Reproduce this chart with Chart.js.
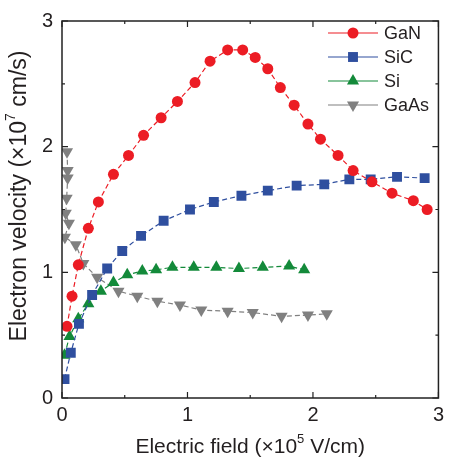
<!DOCTYPE html>
<html>
<head>
<meta charset="utf-8">
<script src="https://cdn.jsdelivr.net/npm/chart.js@4.4.1/dist/chart.umd.min.js"></script>
<style>
  html, body { margin: 0; padding: 0; background: #fff; }
</style>
</head>
<body>
<canvas id="myChart" width="449" height="461"></canvas>
<script>
// values (field in 1e5 V/cm, velocity in 1e7 cm/s)
const ganField = [0.04, 0.08, 0.13, 0.21, 0.29, 0.41, 0.53, 0.65, 0.79, 0.92, 1.06, 1.18, 1.32, 1.44, 1.54, 1.64, 1.74, 1.85, 1.96, 2.06, 2.20, 2.32, 2.47, 2.63, 2.80, 2.91];
const ganVel = [0.57, 0.81, 1.06, 1.35, 1.56, 1.78, 1.93, 2.09, 2.23, 2.36, 2.51, 2.68, 2.77, 2.77, 2.71, 2.62, 2.47, 2.33, 2.18, 2.06, 1.93, 1.81, 1.72, 1.63, 1.57, 1.50];

const sicField = [0.02, 0.07, 0.135, 0.24, 0.36, 0.48, 0.63, 0.81, 1.02, 1.21, 1.43, 1.64, 1.87, 2.09, 2.29, 2.46, 2.67, 2.89];
const sicVel = [0.15, 0.36, 0.59, 0.82, 1.03, 1.17, 1.29, 1.41, 1.50, 1.56, 1.61, 1.65, 1.69, 1.70, 1.74, 1.74, 1.76, 1.75];

const siField = [0.02, 0.06, 0.13, 0.21, 0.31, 0.41, 0.52, 0.64, 0.75, 0.88, 1.05, 1.23, 1.41, 1.60, 1.81, 1.93];
const siVel = [0.34, 0.49, 0.63, 0.75, 0.85, 0.92, 0.98, 1.01, 1.02, 1.04, 1.04, 1.04, 1.03, 1.04, 1.05, 1.02];

const gaasField = [0.04, 0.045, 0.045, 0.037, 0.03, 0.055, 0.023, 0.11, 0.17, 0.28, 0.45, 0.60, 0.76, 0.94, 1.11, 1.32, 1.52, 1.75, 1.96, 2.11];
const gaasVel = [1.96, 1.81, 1.75, 1.59, 1.47, 1.39, 1.28, 1.22, 1.07, 0.96, 0.85, 0.81, 0.77, 0.74, 0.70, 0.69, 0.68, 0.65, 0.66, 0.67];

const xTicks = [0, 1, 2, 3];
const yTicks = [0, 1, 2, 3];
const minorTicks = [0.5, 1.5, 2.5];

// axis titles as [before superscript, superscript, after]
const xTitle = ['Electric field (×10', '5', ' V/cm)'];
const yTitle = ['Electron velocity (×10', '7', ' cm/s)'];

const toPoints = (xs, ys) => xs.map((x, i) => ({ x: x, y: ys[i] }));

const FONT = "'Liberation Sans', Arial, sans-serif";
const TEXT = '#231f20';

function series(label, xs, ys, color, style, radius, rotation) {
  return {
    label: label,
    data: toPoints(xs, ys),
    borderColor: color,
    backgroundColor: color,
    borderWidth: 1.2,
    borderDash: [5, 3],
    pointStyle: style,
    pointRadius: radius,
    pointRotation: rotation || 0,
    pointBackgroundColor: color,
    pointBorderColor: color,
    pointBorderWidth: 0,
    tension: 0
  };
}

// draws a title with a raised superscript, centred on (0,0) of the current transform
function supTitle(ctx, parts, size) {
  const big = size + 'px ' + FONT;
  const small = Math.round(size * 0.62) + 'px ' + FONT;
  ctx.font = big;
  const w0 = ctx.measureText(parts[0]).width;
  const w2 = ctx.measureText(parts[2]).width;
  ctx.font = small;
  const w1 = ctx.measureText(parts[1]).width;
  let xx = -(w0 + w1 + w2) / 2;
  ctx.textAlign = 'left';
  ctx.textBaseline = 'middle';
  ctx.font = big;
  ctx.fillText(parts[0], xx, 0);
  xx += w0;
  ctx.font = small;
  ctx.fillText(parts[1], xx, -size * 0.38);
  xx += w1;
  ctx.font = big;
  ctx.fillText(parts[2], xx, 0);
}

// frame with inward ticks on all four sides, axis titles, and the in-plot legend
const boxTicks = {
  id: 'boxTicks',
  afterDraw(chart) {
    const { ctx, chartArea: a, scales: { x, y } } = chart;
    ctx.save();
    ctx.strokeStyle = '#222';
    ctx.lineWidth = 1.5;
    ctx.strokeRect(a.left, a.top, a.right - a.left, a.bottom - a.top);

    ctx.lineWidth = 1.2;
    ctx.beginPath();
    const xMark = (v, len) => {
      const px = x.getPixelForValue(v);
      ctx.moveTo(px, a.bottom); ctx.lineTo(px, a.bottom - len);
      ctx.moveTo(px, a.top); ctx.lineTo(px, a.top + len);
    };
    const yMark = (v, len) => {
      const py = y.getPixelForValue(v);
      ctx.moveTo(a.left, py); ctx.lineTo(a.left + len, py);
      ctx.moveTo(a.right, py); ctx.lineTo(a.right - len, py);
    };
    xTicks.forEach(v => xMark(v, 6));
    yTicks.forEach(v => yMark(v, 6));
    minorTicks.forEach(v => { xMark(v, 3); yMark(v, 3); });
    ctx.stroke();

    // axis titles
    ctx.fillStyle = TEXT;
    ctx.save();
    ctx.translate((a.left + a.right) / 2, 447);
    supTitle(ctx, xTitle, 21);
    ctx.restore();
    ctx.save();
    ctx.translate(20, 196);
    ctx.rotate(-Math.PI / 2);
    supTitle(ctx, yTitle, 23);
    ctx.restore();

    // legend
    const lx0 = 328, lx1 = 378, tx = 384;
    const rowY = [33, 57, 81, 105];
    ctx.font = '18px ' + FONT;
    ctx.textBaseline = 'middle';
    ctx.textAlign = 'left';
    chart.data.datasets.forEach((ds, i) => {
      const ly = rowY[i];
      ctx.strokeStyle = ds.borderColor;
      ctx.fillStyle = ds.borderColor;
      ctx.lineWidth = 1.2;
      ctx.setLineDash([]);
      ctx.beginPath();
      ctx.moveTo(lx0, ly); ctx.lineTo(lx1, ly);
      ctx.stroke();
      Chart.helpers.drawPoint(ctx, {
        pointStyle: ds.pointStyle,
        rotation: ds.pointRotation,
        radius: ds.pointRadius,
        borderWidth: 0
      }, (lx0 + lx1) / 2, ly);
      ctx.fillStyle = TEXT;
      ctx.fillText(ds.label, tx, ly + 1);
    });
    ctx.restore();
  }
};

new Chart(document.getElementById('myChart').getContext('2d'), {
  type: 'line',
  data: {
    datasets: [
      series('GaN', ganField, ganVel, '#ec1c24', 'circle', 5.5),
      series('SiC', sicField, sicVel, '#2f4f9f', 'rect', 7),
      series('Si', siField, siVel, '#138a3a', 'triangle', 7),
      series('GaAs', gaasField, gaasVel, '#808080', 'triangle', 7, 180)
    ]
  },
  options: {
    responsive: false,
    animation: false,
    layout: { padding: { top: 15, right: 4, left: 0, bottom: 0 } },
    plugins: {
      legend: { display: false },
      tooltip: { enabled: false }
    },
    scales: {
      x: {
        type: 'linear',
        min: 0,
        max: 3,
        afterBuildTicks: s => { s.ticks = xTicks.map(v => ({ value: v })); },
        afterFit: s => { s.height = 63; },
        grid: { display: false, drawTicks: false },
        border: { display: false },
        ticks: { color: TEXT, font: { family: FONT, size: 20 }, padding: 5, maxRotation: 0 }
      },
      y: {
        type: 'linear',
        min: 0,
        max: 3,
        afterBuildTicks: s => { s.ticks = yTicks.map(v => ({ value: v })); },
        afterFit: s => { s.width = 62; },
        grid: { display: false, drawTicks: false },
        border: { display: false },
        ticks: { color: TEXT, font: { family: FONT, size: 20 }, padding: 9 }
      }
    }
  },
  plugins: [boxTicks]
});
</script>
</body>
</html>
